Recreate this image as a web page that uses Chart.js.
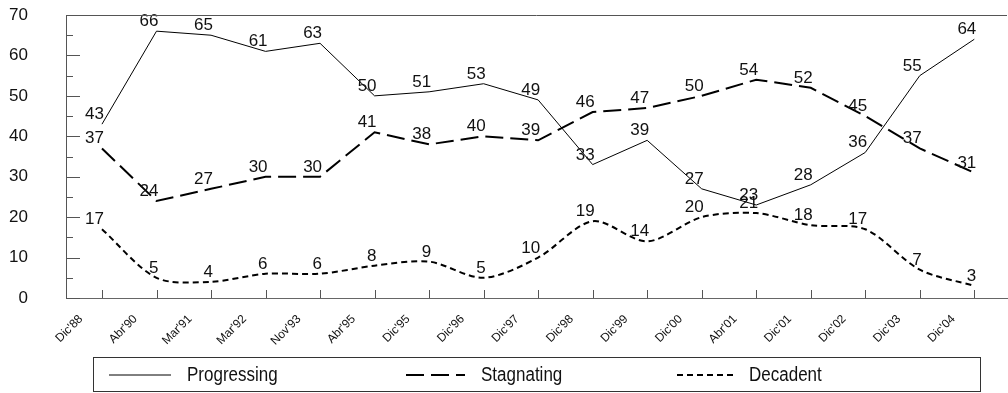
<!DOCTYPE html>
<html>
<head>
<meta charset="utf-8">
<script src="https://cdn.jsdelivr.net/npm/chart.js@4/dist/chart.umd.min.js"></script>
<style>
  body { margin: 0; background: #fff; }
  #caixa { position: relative; width: 1008px; height: 393px; }
  #grafico { position: absolute; left: 0; top: 0; }
  #legenda { position: absolute; left: 93px; top: 357px; width: 888px; height: 35px;
             border: 1px solid #333; box-sizing: border-box;
             font-family: "Liberation Sans Narrow", "Liberation Sans", Arial, sans-serif; font-size: 20px; color: #111; }
  .item { position: absolute; top: 0; height: 33px; display: flex; align-items: center; }
  .item svg { margin-right: 16px; }
  .item span { display: inline-block; transform: scaleX(0.85); transform-origin: left center; }
</style>
</head>
<body>
<div id="caixa">
  <canvas id="grafico" width="1008" height="393"></canvas>
  <div id="legenda"></div>
</div>
<script>
var rotulos = ["Dic'88","Abr'90","Mar'91","Mar'92","Nov'93","Abr'95","Dic'95","Dic'96","Dic'97","Dic'98","Dic'99","Dic'00","Abr'01","Dic'01","Dic'02","Dic'03","Dic'04"];
var progressing = [43,66,65,61,63,50,51,53,49,33,39,27,23,28,36,55,64];
var stagnating  = [37,24,27,30,30,41,38,40,39,46,47,50,54,52,45,37,31];
var decadent    = [17,5,4,6,6,8,9,5,10,19,14,20,21,18,17,7,3];
var nomes = ["Progressing","Stagnating","Decadent"];
var yTicks = [0,10,20,30,40,50,60,70];

function pontos(arr){
    return arr.map(function(v,i){ return {x:i, y:v}; });
}

var fonte = "Liberation Sans, Arial, sans-serif";

// marcas para dentro nos eixos + rotulos dos valores
var extras = {
    id: "extras",
    afterDraw: function(chart){
        var ctx = chart.ctx, a = chart.chartArea;
        var sx = chart.scales.x, sy = chart.scales.y;
        ctx.save();
        ctx.strokeStyle = "#555";
        ctx.lineWidth = 1;
        // linha de cima
        ctx.beginPath();
        ctx.moveTo(a.left, a.top + 0.5);
        ctx.lineTo(a.right, a.top + 0.5);
        ctx.stroke();
        // ticks do y (maior e menor)
        for(var v = 0; v <= 70; v += 5){
            var py = Math.round(sy.getPixelForValue(v)) + 0.5;
            var len = (v % 10 == 0) ? 14 : 7;
            ctx.beginPath();
            ctx.moveTo(a.left, py);
            ctx.lineTo(a.left + len, py);
            ctx.stroke();
        }
        // ticks do x
        for(var i = 0; i < rotulos.length; i++){
            var px = Math.round(sx.getPixelForValue(i)) + 0.5;
            ctx.beginPath();
            ctx.moveTo(px, a.bottom);
            ctx.lineTo(px, a.bottom - 8);
            ctx.stroke();
        }
        ctx.restore();
    },
    afterDatasetsDraw: function(chart){
        var ctx = chart.ctx;
        ctx.save();
        ctx.font = "17px " + fonte;
        ctx.fillStyle = "#111";
        ctx.textAlign = "right";
        ctx.textBaseline = "alphabetic";
        chart.data.datasets.forEach(function(ds, d){
            var meta = chart.getDatasetMeta(d);
            meta.data.forEach(function(p, i){
                ctx.fillText(String(ds.data[i].y), p.x + 2, p.y - 5);
            });
        });
        ctx.restore();
    }
};

var estilos = [
    {cor:"#000", largura:1, tracos:[], tensao:0},
    {cor:"#000", largura:2, tracos:[18,7], tensao:0},
    {cor:"#000", largura:2, tracos:[6,4], tensao:0.3}
];
var series = [progressing, stagnating, decadent];

var datasets = series.map(function(s, k){
    return {
        label: nomes[k],
        data: pontos(s),
        borderColor: estilos[k].cor,
        borderWidth: estilos[k].largura,
        borderDash: estilos[k].tracos,
        tension: estilos[k].tensao,
        pointRadius: 0,
        fill: false
    };
});

var chart = new Chart(document.getElementById("grafico").getContext("2d"), {
    type: "line",
    data: { datasets: datasets },
    options: {
        responsive: false,
        animation: false,
        layout: { padding: { top: 15, right: 1, left: 0, bottom: 0 } },
        plugins: { legend: { display: false }, tooltip: { enabled: false } },
        scales: {
            x: {
                type: "linear",
                min: -0.66,
                max: 16.6,
                afterBuildTicks: function(scale){
                    scale.ticks = rotulos.map(function(r, i){ return {value: i}; });
                },
                afterFit: function(scale){
                    scale.height = 95;
                    scale.paddingLeft = 0;
                    scale.paddingRight = 0;
                },
                grid: { display: false, drawTicks: false },
                border: { display: true, color: "#666", width: 1 },
                ticks: {
                    autoSkip: false,
                    minRotation: 45,
                    maxRotation: 45,
                    padding: 14,
                    labelOffset: -21,
                    color: "#111",
                    font: { family: fonte, size: 12 },
                    callback: function(v){ return rotulos[v]; }
                }
            },
            y: {
                min: 0,
                max: 70,
                afterBuildTicks: function(scale){
                    scale.ticks = yTicks.map(function(v){ return {value: v}; });
                },
                afterFit: function(scale){
                    scale.width = 66;
                    scale.paddingTop = 0;
                    scale.paddingBottom = 0;
                },
                grid: { display: false, drawTicks: false },
                border: { display: true, color: "#555", width: 1 },
                ticks: {
                    padding: 38,
                    color: "#111",
                    font: { family: fonte, size: 17 }
                }
            }
        }
    },
    plugins: [extras]
});

// legenda em html, com as mesmas linhas das series
var posicoes = [[15, 62], [312, 59], [583, 56]];
var leg = document.getElementById("legenda");
nomes.forEach(function(n, k){
    var item = document.createElement("div");
    item.className = "item";
    item.style.left = posicoes[k][0] + "px";
    var w = posicoes[k][1];
    item.innerHTML = "<svg width='" + w + "' height='6'><line x1='0' y1='3' x2='" + w + "' y2='3' stroke='#000' stroke-width='" +
        estilos[k].largura + "' stroke-dasharray='" + (estilos[k].tracos.join(",") || "none") + "'/></svg><span>" + n + "</span>";
    leg.appendChild(item);
});
</script>
</body>
</html>
